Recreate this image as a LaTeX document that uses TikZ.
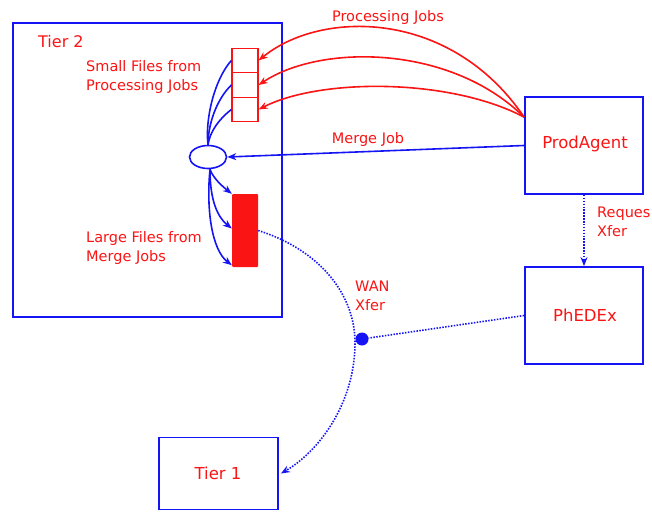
\documentclass[tikz,border=0pt]{standalone}
\usepackage{fontspec}
\setmainfont{DejaVu Sans}
\usetikzlibrary{arrows.meta,shapes.geometric}
\definecolor{dblue}{RGB}{20,20,245}
\definecolor{dred}{RGB}{250,20,20}
\begin{document}
\begin{tikzpicture}[x=1pt,y=-1pt,
  bluebox/.style={draw=dblue,line width=1.8pt,inner sep=0pt},
  smallfile/.style={draw=dred,line width=1.3pt,minimum width=26pt,minimum height=24.5pt,inner sep=0pt},
  lbl/.style={text=dred,font=\fontsize{14.5}{19}\selectfont,align=left,inner sep=0pt},
  boxlbl/.style={text=dred,font=\fontsize{16.5}{20}\selectfont,inner sep=0pt},
  redarr/.style={draw=dred,line width=1.6pt,-{Stealth[length=9pt,width=7pt]}},
  bluearr/.style={draw=dblue,line width=1.6pt,-{Stealth[length=9pt,width=7pt]}},
  blueline/.style={draw=dblue,line width=1.6pt},
  dotline/.style={draw=dblue,line width=1.6pt,dash pattern=on 1.5pt off 1.4pt}]
\useasboundingbox (0,0) rectangle (652,511);
% boxes
\node[bluebox,minimum width=269pt,minimum height=294pt] (tier2) at (147.5,170) {};
\node[lbl,anchor=west] (t2lbl) at (38,42) {\fontsize{16}{19}\selectfont Tier 2};
\node[smallfile] (sf1) at (245,60.5) {};
\node[smallfile] (sf2) at (245,85) {};
\node[smallfile] (sf3) at (245,109.5) {};
\node[lbl,anchor=west] (sflbl) at (86,76.5) {Small Files from\\Processing Jobs};
\node[draw=dblue,line width=1.6pt,ellipse,minimum width=37pt,minimum height=23pt,inner sep=0pt] (merge) at (208,157) {};
\node[fill=dred,rounded corners=1pt,minimum width=26pt,minimum height=73pt,inner sep=0pt] (big) at (245,230.5) {};
\node[lbl,anchor=west] (lflbl) at (86,247.5) {Large Files from\\Merge Jobs};
\node[bluebox,minimum width=118pt,minimum height=97pt] (prod) at (584,145.5) {};
\node[boxlbl] (prodlbl) at (585,144) {ProdAgent};
\node[bluebox,minimum width=118pt,minimum height=97pt] (phedex) at (584,315.5) {};
\node[boxlbl] (phedexlbl) at (585,315) {PhEDEx};
\node[bluebox,minimum width=119pt,minimum height=72pt] (tier1) at (218.5,473.5) {};
\node[boxlbl] (tier1lbl) at (218,473) {Tier 1};
\node[circle,fill=dblue,minimum size=13pt,inner sep=0pt] (dot) at (362,339) {};
% labels
\node[lbl] (pjlbl) at (388,18) {Processing Jobs};
\node[lbl] (mjlbl) at (368,139) {Merge Job};
\node[lbl,anchor=west] (rqlbl) at (597,222) {Reques\\Xfer};
\node[lbl,anchor=west] (wanlbl) at (355,296) {WAN\\Xfer};
% processing jobs
\coordinate (pa) at ([yshift=-21pt]prod.north west);
\draw[redarr] (pa) .. controls (450,8) and (320,10) .. (sf1.east);
\draw[redarr] (pa) .. controls (450,44) and (320,44) .. (sf2.east);
\draw[redarr] (pa) .. controls (450,78) and (320,78) .. (sf3.east);
% merge job
\draw[bluearr] (prod.west) -- (merge.east);
% small files into merge
\draw[blueline] (sf1.west) .. controls (214,80) and (205,120) .. (merge.north);
\draw[blueline] (sf2.west) .. controls (216,100) and (208,125) .. (merge.north);
\draw[blueline] (sf3.west) .. controls (218,120) and (210,132) .. (merge.north);
% merge outputs
\coordinate (mo) at ([xshift=2pt]merge.south);
\draw[bluearr] (mo) .. controls (213,178) and (222,186) .. (big.north west);
\draw[bluearr] (mo) .. controls (210,195) and (215,215) .. ([yshift=2pt]big.west);
\draw[bluearr] (mo) .. controls (206,210) and (212,250) .. ([yshift=2pt]big.south west);
% transfers
\draw[dotline,-{Stealth[length=9pt,width=7pt]}] (prod.south) -- (phedex.north);
\draw[dotline] (phedex.west) -- (dot);
\draw[dotline,-{Stealth[length=9pt,width=7pt]}] (big.east) .. controls (320,250) and (356,295) .. (355,345) .. controls (354,405) and (318,452) .. ([xshift=2pt]tier1.east);
\end{tikzpicture}
\end{document}
